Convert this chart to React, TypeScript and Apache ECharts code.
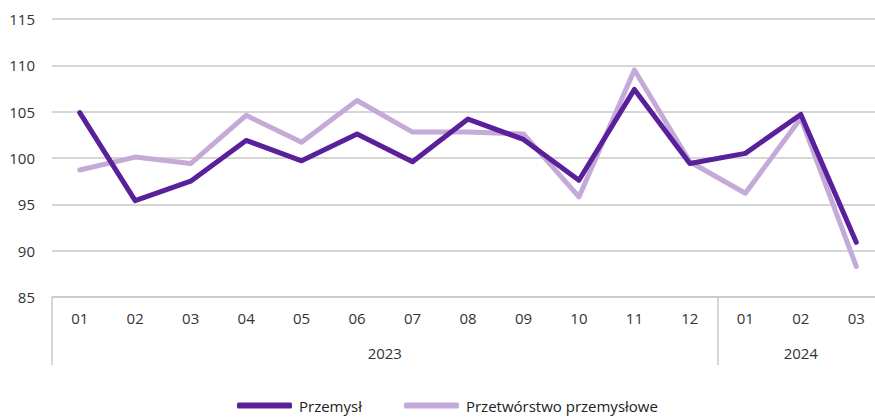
import React, { useEffect, useRef } from "react";
import * as echarts from "echarts";

const months = ["01", "02", "03", "04", "05", "06", "07", "08", "09", "10", "11", "12", "01", "02", "03"];
const years = ["2023", "2024"];
const monthsPerYear = [12, 3];
const przemysl = [104.9, 95.4, 97.5, 101.9, 99.7, 102.6, 99.6, 104.2, 102.0, 97.6, 107.4, 99.4, 100.5, 104.7, 90.9];
const przetworstwo = [98.7, 100.1, 99.4, 104.6, 101.7, 106.2, 102.8, 102.8, 102.6, 95.8, 109.5, 99.6, 96.2, 104.3, 88.3];
const seriesNames = ["Przemysł", "Przetwórstwo przemysłowe"];
const colors = ["#5a1f9b", "#c3aad8"];

export default function App() {
  const ref = useRef<HTMLDivElement>(null);
  useEffect(() => {
    if (!ref.current) return;
    const chart = echarts.init(ref.current, null, { renderer: "svg" });
    const yearStarts: number[] = [];
    const yearCenters: number[] = [];
    let acc = 0;
    monthsPerYear.forEach((n) => {
      yearStarts.push(acc);
      yearCenters.push(acc + n / 2);
      acc += n;
    });
    const font = "'Open Sans', sans-serif";
    chart.setOption({
      animation: false,
      textStyle: { fontFamily: font },
      grid: { left: 52, top: 19, bottom: 120, right: 0, containLabel: false },
      legend: {
        left: 232,
        top: 393,
        itemWidth: 55,
        itemHeight: 6,
        itemGap: 42,
        icon: "roundRect",
        textStyle: { fontSize: 15, color: "#222", fontFamily: font, padding: [0, 0, 0, 2] },
        data: seriesNames,
      },
      xAxis: [
        {
          type: "category",
          data: months,
          boundaryGap: true,
          axisLine: { show: true, lineStyle: { color: "#c8c8c8", width: 1.5 } },
          axisTick: {
            show: true,
            length: 68,
            interval: (i: number) => yearStarts.includes(i),
            lineStyle: { color: "#c8c8c8", width: 1.5 },
          },
          axisLabel: { color: "#333", fontSize: 15, margin: 13, fontFamily: font, interval: 0 },
        },
        {
          type: "value",
          min: 0,
          max: acc,
          interval: 0.5,
          position: "bottom",
          axisLine: { show: false },
          axisTick: { show: false },
          splitLine: { show: false },
          axisLabel: {
            color: "#333",
            fontSize: 15,
            margin: 48,
            fontFamily: font,
            showMinLabel: true,
            showMaxLabel: true,
            formatter: (v: number) => {
              const idx = yearCenters.findIndex((c) => Math.abs(c - v) < 1e-6);
              return idx >= 0 ? years[idx] : "";
            },
          },
        },
      ],
      yAxis: {
        type: "value",
        min: 85,
        max: 115,
        interval: 5,
        axisLine: { show: false },
        axisTick: { show: false },
        splitLine: { lineStyle: { color: "#c8c8c8", width: 1.5 } },
        axisLabel: { color: "#333", fontSize: 15, margin: 17, fontFamily: font },
      },
      series: [
        {
          name: seriesNames[0],
          type: "line",
          data: przemysl,
          symbol: "none",
          color: colors[0],
          lineStyle: { width: 5, color: colors[0], cap: "round", join: "round" },
          z: 3,
        },
        {
          name: seriesNames[1],
          type: "line",
          data: przetworstwo,
          symbol: "none",
          color: colors[1],
          lineStyle: { width: 5, color: colors[1], cap: "round", join: "round" },
          z: 2,
        },
      ],
    });
    return () => chart.dispose();
  }, []);
  return (
    <div style={{ width: 875, height: 417, position: "absolute", left: 0, top: 0, overflow: "hidden" }}>
      <div ref={ref} style={{ width: 887, height: 417 }} />
    </div>
  );
}
